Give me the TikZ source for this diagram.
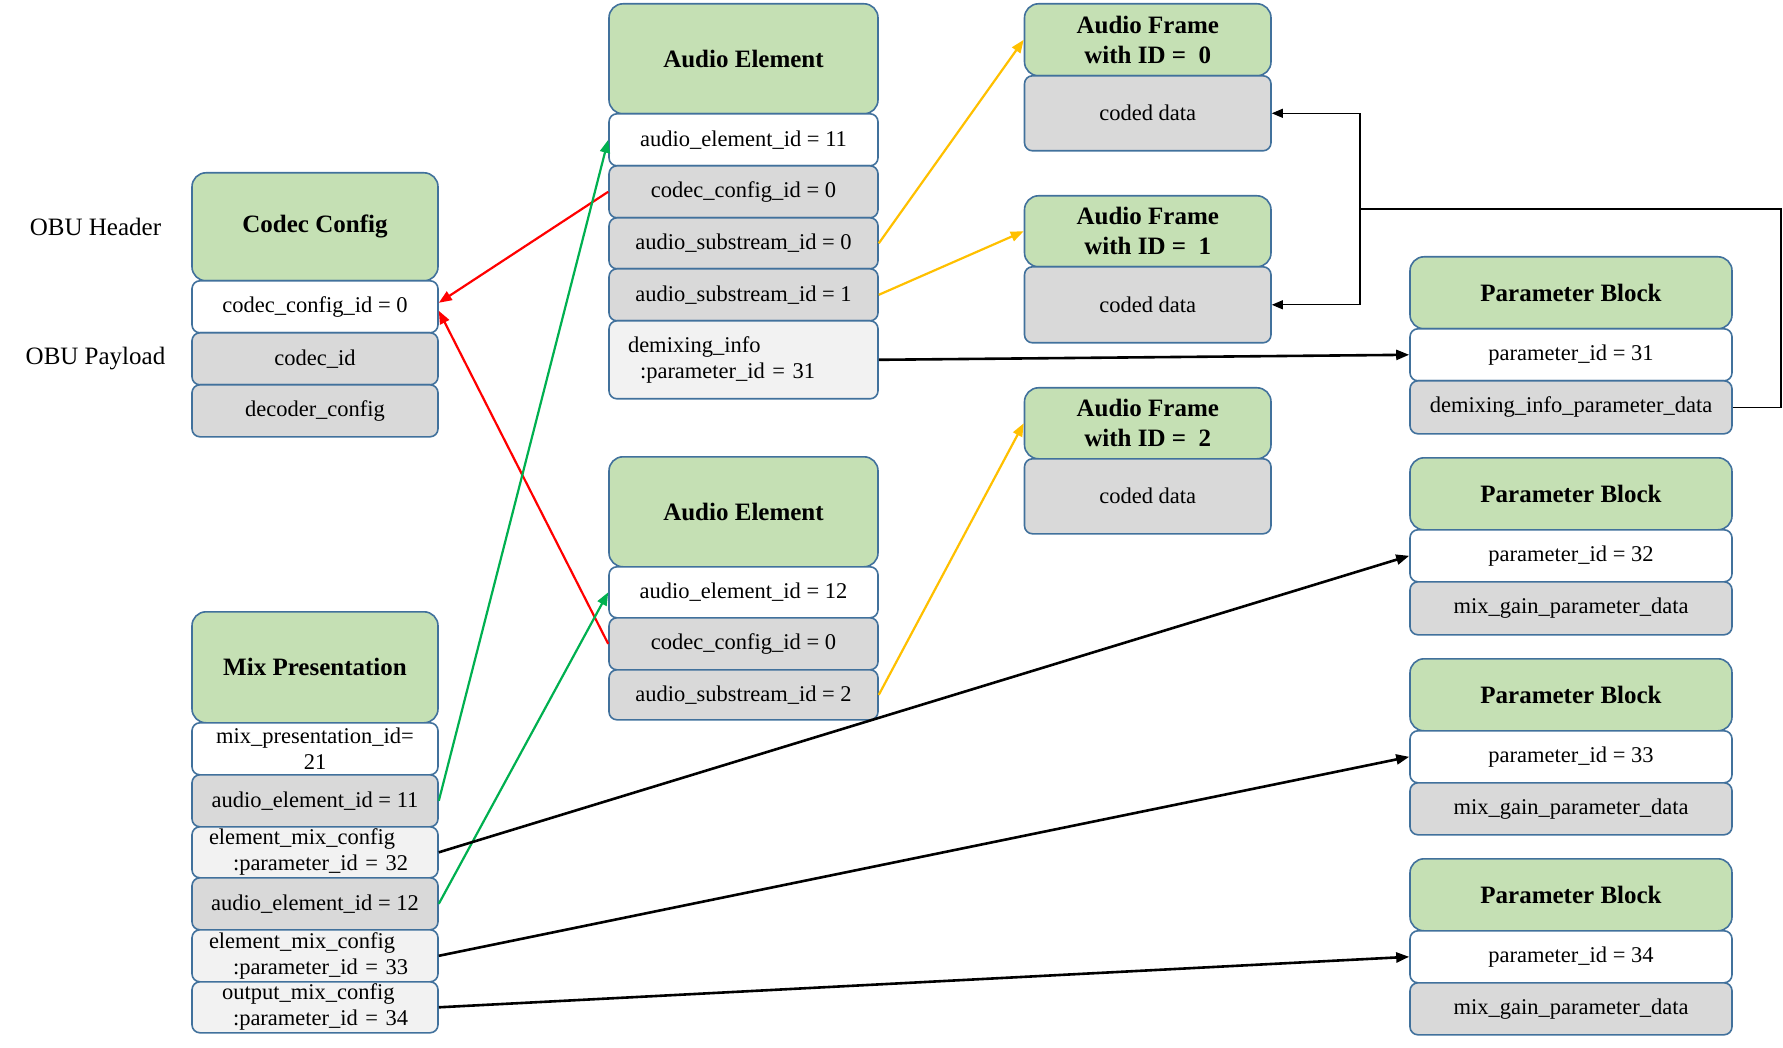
\documentclass[tikz,border=0pt]{standalone}
\usepackage{fontspec}
\setmainfont{Liberation Serif}
\usetikzlibrary{arrows.meta}
\definecolor{bordc}{HTML}{41719C}
\definecolor{hdrc}{HTML}{C5E0B4}
\definecolor{grayc}{HTML}{D9D9D9}
\definecolor{lightc}{HTML}{F2F2F2}
\definecolor{redc}{HTML}{FF0000}
\definecolor{greenc}{HTML}{00B050}
\definecolor{yellowc}{HTML}{FFC000}
\begin{document}
\begin{tikzpicture}[y=-1pt,x=1pt,
    hdr/.style={draw=bordc,fill=hdrc,line width=1.6pt,rounded corners=14pt,anchor=north,inner sep=0pt,align=center,font=\bfseries\fontsize{25}{30}\selectfont},
    fld/.style={draw=bordc,line width=1.6pt,rounded corners=8pt,anchor=north,inner sep=0pt,align=center,font=\fontsize{22.5}{26}\selectfont},
    fldw/.style={fld,fill=white},
    fldg/.style={fld,fill=grayc},
    fldl/.style={fld,fill=lightc},
    lbl/.style={font=\fontsize{25}{30}\selectfont},
    arr/.style={line width=2.2pt,-{Triangle[length=13pt,width=10pt]}},
    fbline/.style={line width=1.1pt}]
    \useasboundingbox (0,0) rectangle (1783,1048);

    % side labels
    \node[lbl] (obuhdr) at (95.5,227) {OBU Header};
    \node[lbl] (obupay) at (95.5,359) {OBU Payload};

    % codec config
    \node[hdr,minimum width=246,minimum height=108] (cchd) at (315,172) {Codec Config};
    \node[fldw,minimum width=246,minimum height=52] (ccid) at (315,280) {codec\_config\_id = 0};
    \node[fldg,minimum width=246,minimum height=52] (cccodec) at (315,332) {codec\_id};
    \node[fldg,minimum width=246,minimum height=52] (ccdec) at (315,384) {decoder\_config};

    % mix presentation
    \node[hdr,minimum width=246,minimum height=111] (mphd) at (315,611) {Mix Presentation};
    \node[fldw,minimum width=246,minimum height=52] (mpid) at (315,722) {mix\_presentation\_id=\\21};
    \node[fldg,minimum width=246,minimum height=52] (mpae11) at (315,774) {audio\_element\_id = 11};
    \node[fldl,minimum width=246,minimum height=51,text width=212,align=left] (mpemc32) at (315,826) {element\_mix\_config\\\hspace*{24pt}:parameter\_id = 32};
    \node[fldg,minimum width=246,minimum height=52] (mpae12) at (315,877) {audio\_element\_id = 12};
    \node[fldl,minimum width=246,minimum height=52,text width=212,align=left] (mpemc33) at (315,929) {element\_mix\_config\\\hspace*{24pt}:parameter\_id = 33};
    \node[fldl,minimum width=246,minimum height=51,text width=212,align=left] (mpomc34) at (315,981) {\hspace*{13pt}output\_mix\_config\\\hspace*{24pt}:parameter\_id = 34};

    % audio element 1
    \node[hdr,minimum width=269,minimum height=110] (ae1hd) at (743.5,3) {Audio Element};
    \node[fldw,minimum width=269,minimum height=52] (ae1id) at (743.5,113) {audio\_element\_id = 11};
    \node[fldg,minimum width=269,minimum height=52] (ae1cc) at (743.5,165) {codec\_config\_id = 0};
    \node[fldg,minimum width=269,minimum height=51] (ae1s0) at (743.5,217) {audio\_substream\_id = 0};
    \node[fldg,minimum width=269,minimum height=52] (ae1s1) at (743.5,268) {audio\_substream\_id = 1};
    \node[fldl,minimum width=269,minimum height=78,text width=231,align=left] (ae1dm) at (743.5,320) {demixing\_info\\\hspace*{12pt}:parameter\_id = 31};

    % audio element 2
    \node[hdr,minimum width=269,minimum height=110] (ae2hd) at (743.5,456) {Audio Element};
    \node[fldw,minimum width=269,minimum height=51] (ae2id) at (743.5,566) {audio\_element\_id = 12};
    \node[fldg,minimum width=269,minimum height=52] (ae2cc) at (743.5,617) {codec\_config\_id = 0};
    \node[fldg,minimum width=269,minimum height=50] (ae2s2) at (743.5,669) {audio\_substream\_id = 2};

    % audio frames
    \node[hdr,minimum width=246.5,minimum height=72] (af0hd) at (1147.75,3) {Audio Frame\\with ID =~~0};
    \node[fldg,minimum width=246.5,minimum height=75] (af0dat) at (1147.75,75) {coded data};
    \node[hdr,minimum width=246.5,minimum height=71] (af1hd) at (1147.75,195) {Audio Frame\\with ID =~~1};
    \node[fldg,minimum width=246.5,minimum height=76] (af1dat) at (1147.75,266) {coded data};
    \node[hdr,minimum width=246.5,minimum height=71] (af2hd) at (1147.75,387) {Audio Frame\\with ID =~~2};
    \node[fldg,minimum width=246.5,minimum height=75] (af2dat) at (1147.75,458) {coded data};

    % parameter blocks
    \node[hdr,minimum width=322,minimum height=72] (pb1hd) at (1571,256) {Parameter Block};
    \node[fldw,minimum width=322,minimum height=52] (pb1id) at (1571,328) {parameter\_id = 31};
    \node[fldg,minimum width=322,minimum height=53] (pb1dat) at (1571,380) {demixing\_info\_parameter\_data};
    \node[hdr,minimum width=322,minimum height=72] (pb2hd) at (1571,457) {Parameter Block};
    \node[fldw,minimum width=322,minimum height=52] (pb2id) at (1571,529) {parameter\_id = 32};
    \node[fldg,minimum width=322,minimum height=53] (pb2dat) at (1571,581) {mix\_gain\_parameter\_data};
    \node[hdr,minimum width=322,minimum height=72] (pb3hd) at (1571,658) {Parameter Block};
    \node[fldw,minimum width=322,minimum height=52] (pb3id) at (1571,730) {parameter\_id = 33};
    \node[fldg,minimum width=322,minimum height=52] (pb3dat) at (1571,782) {mix\_gain\_parameter\_data};
    \node[hdr,minimum width=322,minimum height=72] (pb4hd) at (1571,858) {Parameter Block};
    \node[fldw,minimum width=322,minimum height=52] (pb4id) at (1571,930) {parameter\_id = 34};
    \node[fldg,minimum width=322,minimum height=52] (pb4dat) at (1571,982) {mix\_gain\_parameter\_data};

    % codec config links
    \draw[arr,redc] (ae1cc.west) -- ([yshift=4pt]ccid.east);
    \draw[arr,redc] (ae2cc.west) -- ([yshift=-4pt]ccid.east);

    % audio element links
    \draw[arr,greenc] (mpae11.east) -- (ae1id.west);
    \draw[arr,greenc] (mpae12.east) -- (ae2id.west);

    % substream links
    \draw[arr,yellowc] (ae1s0.east) -- (af0hd.west);
    \draw[arr,yellowc] (ae1s1.east) -- (af1hd.west);
    \draw[arr,yellowc] (ae2s2.east) -- (af2hd.west);

    % parameter links
    \draw[arr,line width=2.6pt] (ae1dm.east) -- (pb1id.west);
    \draw[arr,line width=2.6pt] (mpemc32.east) -- (pb2id.west);
    \draw[arr,line width=2.6pt] (mpemc33.east) -- (pb3id.west);
    \draw[arr,line width=2.6pt] (mpomc34.east) -- (pb4id.west);

    % demixing data back to coded data
    \coordinate (fbr) at (1781,209);
    \coordinate (fbl) at (1360,209);
    \draw[fbline] (pb1dat.east) -| (fbr) -- (fbl);
    \draw[fbline,-{Triangle[length=11pt,width=9pt]}] (fbl) |- (af0dat.east);
    \draw[fbline,-{Triangle[length=11pt,width=9pt]}] (fbl) |- (af1dat.east);
\end{tikzpicture}
\end{document}
